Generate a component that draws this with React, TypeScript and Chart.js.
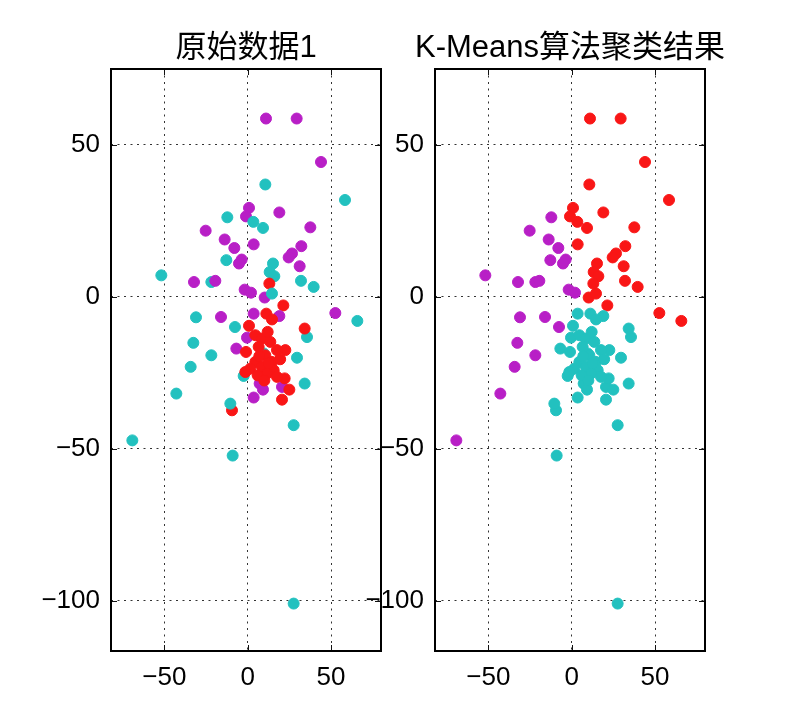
import React, { useEffect, useRef } from 'react';
import { Chart, registerables } from 'chart.js';

Chart.register(...registerables);

// ---- data ----
const xTicks = [-50, 0, 50];
const yTicks = [50, 0, -50, -100];
const xRange = [-82, 80];
const yRange = [-116.5, 75];
const titles = ['原始数据1', 'K-Means算法聚类结果'];

const pointX = [
  11.0, 29.4, 44.0, 10.6, 58.4, 0.8, -1.0, -12.2, 19.0, 3.4,
  9.2, -25.2, 37.6, -13.8, 3.6, -8.0, 32.2, 26.6, 24.6, -3.6,
  -5.2, -12.8, 15.2, 13.2, 16.0, 31.2, -51.8, -32.2, -21.8, -19.4,
  13.0, 32.0, 39.6, -1.8, 2.0, 10.2, 14.6, 21.4, 3.6, 19.0,
  52.6, 65.8, -31.0, -16.0, -7.6, 35.6, -32.6, -21.8, 29.6, -34.2,
  -2.4, 34.2, -42.8, 27.6, -69.2, -9.0, 27.6, 9.6, -6.8, -0.4,
  20.6, 7.2, 9.2, 3.6, 11.2, 14.6, 0.8, 34.2, -1.0, 25.0,
  20.6, 22.2, -9.4, -10.4, 4.6, 8.6, 13.6, 6.6, 22.6, 17.6,
  10.6, 4.6, 14.6, 8.6, 1.6, 15.6, 11.6, 17.6, -1.4, 12.0,
  7.0, 12.5, 19.5, 6.0, 10.0,
];
const pointY = [
  58.7, 58.7, 44.4, 37.0, 31.9, 29.3, 26.5, 26.2, 27.8, 24.7,
  22.7, 21.8, 22.9, 18.9, 17.3, 16.1, 16.7, 14.3, 13.0, 12.3,
  11.0, 12.1, 11.0, 8.2, 6.8, 10.1, 7.1, 4.9, 4.9, 5.3,
  4.4, 5.3, 3.3, 2.4, 1.4, -0.2, 1.1, -2.8, -5.5, -6.3,
  -5.3, -7.9, -6.7, -6.6, -9.9, -13.2, -15.1, -19.2, -20.0, -23.0,
  -26.0, -28.5, -31.8, -42.2, -47.2, -52.2, -100.9, -18.6, -17.0, -13.4,
  -29.6, -28.5, -30.5, -33.1, -5.5, -7.4, -9.5, -10.4, -18.1, -30.5,
  -33.8, -26.8, -37.3, -35.1, -12.6, -13.7, -14.8, -16.4, -17.5, -17.5,
  -19.2, -21.4, -21.4, -23.0, -23.6, -24.1, -25.2, -26.3, -24.7, -11.5,
  -19.5, -21.8, -20.5, -25.8, -27.5,
];
// 0 = cyan, 1 = purple, 2 = red
const originalGroup = [
  1, 1, 1, 0, 0, 1, 1, 0, 1, 0,
  0, 1, 1, 1, 1, 1, 1, 1, 1, 1,
  1, 0, 0, 0, 0, 1, 0, 1, 0, 1,
  2, 0, 0, 1, 1, 1, 0, 2, 1, 1,
  1, 0, 0, 1, 0, 0, 0, 0, 0, 0,
  0, 0, 0, 0, 0, 0, 0, 0, 1, 1,
  1, 1, 1, 1, 2, 2, 2, 2, 2, 2,
  2, 2, 2, 0, 2, 2, 2, 2, 2, 2,
  2, 2, 2, 2, 2, 2, 2, 2, 2, 2,
  2, 2, 2, 2, 2,
];
const kmeansGroup = [
  2, 2, 2, 2, 2, 2, 2, 1, 2, 2,
  2, 1, 2, 1, 2, 1, 2, 2, 2, 1,
  1, 1, 2, 2, 2, 2, 1, 1, 1, 1,
  2, 2, 2, 1, 1, 2, 2, 2, 0, 0,
  2, 2, 1, 1, 1, 0, 1, 1, 0, 1,
  0, 0, 1, 0, 1, 0, 0, 0, 0, 0,
  0, 0, 0, 0, 0, 0, 0, 0, 0, 0,
  0, 0, 0, 0, 0, 0, 0, 0, 0, 0,
  0, 0, 0, 0, 0, 0, 0, 0, 0, 0,
  0, 0, 0, 0, 0,
];

// ---- styles ----
const groupColors = ['#22c1bf', '#b81fc6', '#f91616'];
const FONT = '"Liberation Sans", "Noto Sans CJK SC", Arial, sans-serif';
const CANVAS_H = 710;
const AREA_TOP = 69;
const AREA_BOTTOM = 651;

const fmt = (v: number) => (v < 0 ? '\u2212' + Math.abs(v) : String(v));

const framePlugin = {
  id: 'frame',
  afterDraw(chart: any, _args: any, opts: any) {
    const { ctx, chartArea } = chart;
    const { left, right, top, bottom } = chartArea;
    const xs = chart.scales.x;
    const ys = chart.scales.y;
    ctx.save();
    ctx.strokeStyle = '#111';
    ctx.lineWidth = 1;
    ctx.beginPath();
    xs.ticks.forEach((t: any) => {
      const p = Math.round(xs.getPixelForValue(t.value)) + 0.5;
      ctx.moveTo(p, bottom);
      ctx.lineTo(p, bottom - 6);
      ctx.moveTo(p, top);
      ctx.lineTo(p, top + 6);
    });
    ys.ticks.forEach((t: any) => {
      const p = Math.round(ys.getPixelForValue(t.value)) + 0.5;
      ctx.moveTo(left, p);
      ctx.lineTo(left + 6, p);
      ctx.moveTo(right, p);
      ctx.lineTo(right - 6, p);
    });
    ctx.stroke();
    ctx.strokeStyle = '#000';
    ctx.lineWidth = 2;
    ctx.strokeRect(left, top, right - left, bottom - top);
    ctx.fillStyle = '#000';
    ctx.font = '31px ' + FONT;
    ctx.textAlign = 'center';
    ctx.textBaseline = 'middle';
    ctx.fillText(opts.title, (left + right) / 2, 48.5);
    ctx.restore();
  },
};

function makeConfig(groups: number[], title: string, axisWidth: number, padRight: number): any {
  const data = pointX.map((x, i) => ({ x, y: pointY[i] }));
  const colors = groups.map((g) => groupColors[g]);
  const tickFont = { family: FONT, size: 26 };
  return {
    type: 'scatter',
    data: {
      datasets: [
        {
          data,
          pointRadius: 5.5,
          pointHoverRadius: 5.5,
          pointBorderWidth: 1,
          pointBackgroundColor: colors,
          pointBorderColor: colors,
        },
      ],
    },
    options: {
      responsive: false,
      animation: false,
      events: [],
      layout: { padding: { top: AREA_TOP, right: padRight, left: 0, bottom: 0 } },
      plugins: {
        legend: { display: false },
        tooltip: { enabled: false },
        title: { display: false },
        frame: { title },
      },
      scales: {
        x: {
          type: 'linear',
          min: xRange[0],
          max: xRange[1],
          afterBuildTicks: (s: any) => {
            s.ticks = xTicks.map((v) => ({ value: v }));
          },
          afterFit: (s: any) => {
            s.height = CANVAS_H - AREA_BOTTOM;
          },
          grid: { color: '#333', lineWidth: 1, drawTicks: false },
          border: { display: false, dash: [2, 4.5] },
          ticks: { padding: 11, color: '#000', font: tickFont, maxRotation: 0, autoSkip: false, callback: (v: number) => fmt(v) },
        },
        y: {
          type: 'linear',
          min: yRange[0],
          max: yRange[1],
          afterBuildTicks: (s: any) => {
            s.ticks = yTicks.map((v) => ({ value: v }));
          },
          afterFit: (s: any) => {
            s.width = axisWidth;
          },
          grid: { color: '#333', lineWidth: 1, drawTicks: false },
          border: { display: false, dash: [2, 4.5] },
          ticks: { padding: 11, color: '#000', font: tickFont, autoSkip: false, callback: (v: number) => fmt(v) },
        },
      },
    },
    plugins: [framePlugin],
  };
}

function ScatterPanel(props: { groups: number[]; title: string; left: number; width: number; axisWidth: number; padRight: number }) {
  const ref = useRef<HTMLCanvasElement | null>(null);
  useEffect(() => {
    if (!ref.current) return;
    const chart = new Chart(ref.current, makeConfig(props.groups, props.title, props.axisWidth, props.padRight));
    return () => chart.destroy();
  }, []);
  return (
    <canvas
      ref={ref}
      width={props.width}
      height={CANVAS_H}
      style={{ position: 'absolute', left: props.left, top: 0, width: props.width, height: CANVAS_H }}
    />
  );
}

export default function App() {
  return (
    <div style={{ position: 'absolute', left: 0, top: 0, width: 812, height: 710, background: '#fff' }}>
      <ScatterPanel groups={originalGroup} title={titles[0]} left={0} width={400} axisWidth={111} padRight={19} />
      <ScatterPanel groups={kmeansGroup} title={titles[1]} left={340} width={472} axisWidth={95} padRight={107} />
    </div>
  );
}
